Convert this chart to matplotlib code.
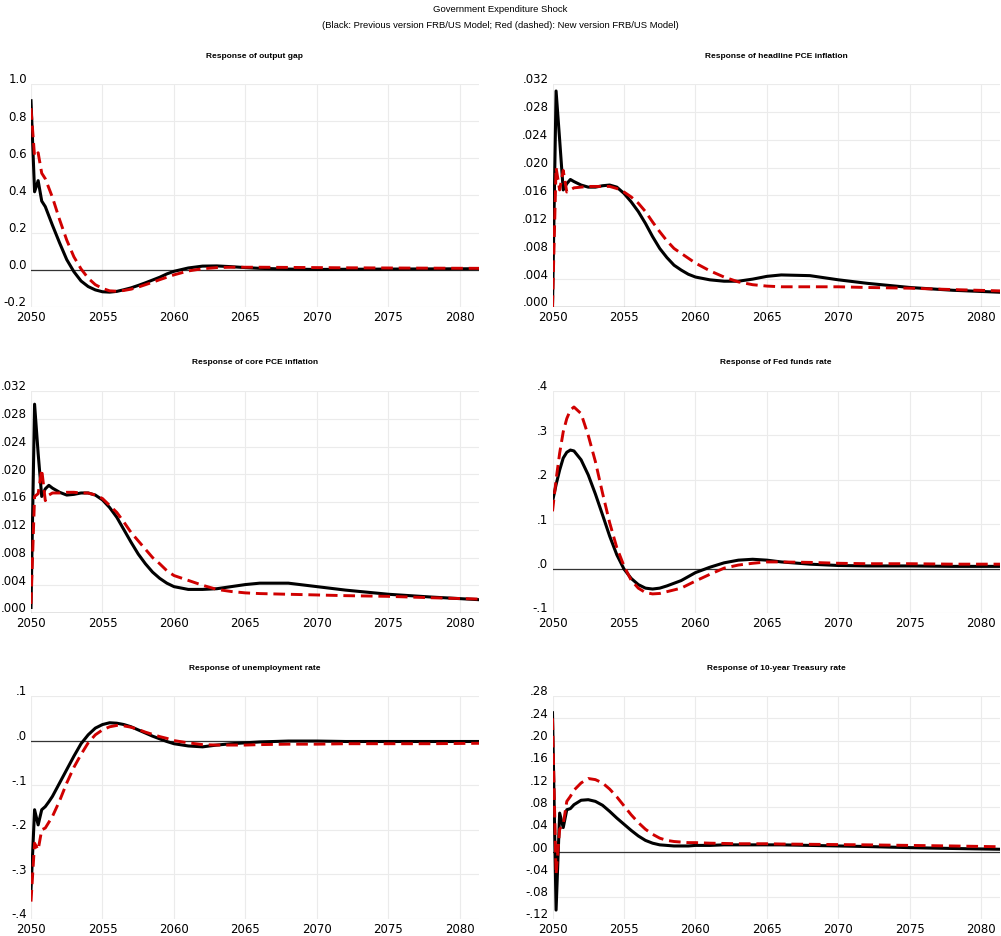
import matplotlib
matplotlib.use("Agg")
import matplotlib.pyplot as plt
from matplotlib.ticker import FuncFormatter, MultipleLocator
from matplotlib.transforms import ScaledTranslation

# time points (quarterly at the start, coarser later)
t = [2050.0, 2050.25, 2050.5, 2050.75, 2051.0, 2051.25, 2051.5, 2052.0, 2052.5,
     2053.0, 2053.5, 2054.0, 2054.5, 2055.0, 2055.5, 2056.0, 2056.5, 2057.0,
     2057.5, 2058.0, 2058.5, 2059.0, 2059.5, 2060.0, 2061.0, 2062.0, 2063.0,
     2064.0, 2065.0, 2066.0, 2068.0, 2070.0, 2072.0, 2075.0, 2078.0, 2081.5]

# output gap
gap_old = [0.91, 0.42, 0.48, 0.37, 0.34, 0.29, 0.24, 0.145, 0.055, -0.01, -0.06,
           -0.09, -0.108, -0.118, -0.12, -0.116, -0.107, -0.097, -0.084, -0.07,
           -0.055, -0.04, -0.022, -0.008, 0.01, 0.02, 0.021, 0.017, 0.012, 0.008,
           0.004, 0.002, 0.003, 0.004, 0.005, 0.006]
gap_new = [0.87, 0.61, 0.63, 0.52, 0.49, 0.44, 0.39, 0.27, 0.16, 0.07, 0.005,
           -0.045, -0.08, -0.10, -0.113, -0.115, -0.111, -0.104, -0.093, -0.08,
           -0.067, -0.053, -0.04, -0.027, -0.006, 0.006, 0.012, 0.014, 0.014,
           0.014, 0.013, 0.012, 0.011, 0.010, 0.009, 0.008]

# headline PCE inflation
pce_old = [0.000, 0.031, 0.024, 0.0168, 0.0177, 0.0183, 0.0180, 0.0175, 0.0172,
           0.0172, 0.0174, 0.0175, 0.0172, 0.0163, 0.0151, 0.0137, 0.0120, 0.0101,
           0.0084, 0.0071, 0.0060, 0.0053, 0.0047, 0.0043, 0.0039, 0.0037, 0.0037,
           0.0040, 0.0044, 0.0046, 0.0045, 0.0039, 0.0034, 0.0028, 0.0024, 0.0021]
pce_new = [0.000, 0.020, 0.0168, 0.0196, 0.0165, 0.0168, 0.0171, 0.0172, 0.0173,
           0.0173, 0.0173, 0.0173, 0.0170, 0.0165, 0.0158, 0.0149, 0.0137, 0.0122,
           0.0108, 0.0095, 0.0084, 0.0077, 0.0070, 0.0063, 0.0052, 0.0043, 0.0036,
           0.0032, 0.0030, 0.0029, 0.0029, 0.0029, 0.0028, 0.0027, 0.0025, 0.0023]

# core PCE inflation
core_old = [0.0008, 0.0301, 0.0230, 0.0168, 0.0179, 0.0184, 0.0180, 0.0174, 0.0170,
            0.0171, 0.0173, 0.0173, 0.0170, 0.0163, 0.0152, 0.0138, 0.0120, 0.0102,
            0.0085, 0.0071, 0.0059, 0.0050, 0.0043, 0.0038, 0.0034, 0.0034, 0.0035,
            0.0038, 0.0041, 0.0043, 0.0043, 0.0038, 0.0033, 0.0027, 0.0023, 0.0019]
core_new = [0.0013, 0.0168, 0.0172, 0.0207, 0.0162, 0.0170, 0.0173, 0.0173, 0.0174,
            0.0174, 0.0173, 0.0173, 0.0170, 0.0165, 0.0155, 0.0145, 0.0131, 0.0116,
            0.0104, 0.0092, 0.0080, 0.0071, 0.0061, 0.0054, 0.0047, 0.0040, 0.0034,
            0.0031, 0.0029, 0.0028, 0.0027, 0.0026, 0.0025, 0.0024, 0.0022, 0.0020]

# fed funds rate
ff_old = [0.151, 0.189, 0.222, 0.249, 0.262, 0.267, 0.265, 0.245, 0.211, 0.168,
          0.121, 0.073, 0.031, -0.001, -0.022, -0.036, -0.044, -0.046, -0.044,
          -0.039, -0.033, -0.027, -0.018, -0.009, 0.003, 0.013, 0.019, 0.021,
          0.019, 0.015, 0.010, 0.007, 0.006, 0.006, 0.005, 0.005]
ff_new = [0.129, 0.200, 0.260, 0.308, 0.338, 0.357, 0.364, 0.349, 0.300, 0.241,
          0.170, 0.103, 0.047, 0.006, -0.026, -0.044, -0.054, -0.057, -0.056,
          -0.052, -0.048, -0.044, -0.036, -0.028, -0.013, 0.001, 0.008, 0.012,
          0.015, 0.015, 0.014, 0.012, 0.011, 0.011, 0.010, 0.010]

# unemployment rate
ur_old = [-0.335, -0.155, -0.189, -0.155, -0.148, -0.137, -0.125, -0.095, -0.065,
          -0.035, -0.007, 0.013, 0.028, 0.036, 0.040, 0.039, 0.036, 0.031, 0.024,
          0.017, 0.010, 0.004, -0.002, -0.007, -0.012, -0.014, -0.010, -0.007,
          -0.005, -0.003, -0.001, -0.001, -0.002, -0.002, -0.002, -0.002]
ur_new = [-0.361, -0.230, -0.245, -0.200, -0.196, -0.183, -0.170, -0.135, -0.095,
          -0.060, -0.031, -0.005, 0.013, 0.024, 0.031, 0.034, 0.033, 0.030, 0.025,
          0.019, 0.014, 0.009, 0.005, 0.000, -0.005, -0.009, -0.010, -0.010,
          -0.010, -0.009, -0.008, -0.008, -0.007, -0.007, -0.007, -0.006]

# 10-year Treasury rate
tr_old = [0.250, -0.104, 0.070, 0.044, 0.076, 0.078, 0.085, 0.093, 0.094, 0.091,
          0.084, 0.073, 0.061, 0.050, 0.039, 0.029, 0.021, 0.016, 0.013, 0.012,
          0.011, 0.011, 0.011, 0.012, 0.012, 0.013, 0.013, 0.013, 0.013, 0.013,
          0.012, 0.011, 0.010, 0.008, 0.0065, 0.005]
tr_new = [0.240, -0.040, 0.041, 0.050, 0.091, 0.100, 0.111, 0.124, 0.132, 0.130,
          0.124, 0.113, 0.099, 0.083, 0.067, 0.053, 0.041, 0.032, 0.025, 0.021,
          0.019, 0.018, 0.017, 0.017, 0.016, 0.0155, 0.015, 0.015, 0.015, 0.0145,
          0.014, 0.0135, 0.013, 0.012, 0.011, 0.0095]

titles = ["Response of output gap", "Response of headline PCE inflation",
          "Response of core PCE inflation", "Response of Fed funds rate",
          "Response of unemployment rate", "Response of 10-year Treasury rate"]
old_series = [gap_old, pce_old, core_old, ff_old, ur_old, tr_old]
new_series = [gap_new, pce_new, core_new, ff_new, ur_new, tr_new]
ylims = [(-0.2, 1.0), (0, 0.032), (0, 0.032), (-0.1, 0.4), (-0.4, 0.1), (-0.12, 0.28)]
ysteps = [0.2, 0.004, 0.004, 0.1, 0.1, 0.04]
ydec = [1, 3, 3, 1, 1, 2]

title_font = ["Liberation Sans", "DejaVu Sans"]

W, H = 1001, 936
fig = plt.figure(figsize=(W / 100, H / 100), dpi=100)

# axes boxes in pixels: left/right, top/bottom
cols = [(31, 478.5), (552.5, 1000)]
rows = [(84, 307), (391, 613), (696, 919)]


def make_fmt(dec, keep_zero):
    def f(v, pos):
        s = f"{v:.{dec}f}"
        if s.startswith("-") and float(s) == 0:
            s = s[1:]
        if not keep_zero:
            s = s.replace("0.", ".", 1)
        return s
    return f


# y labels sit a little above their grid lines in the original
lift = ScaledTranslation(0, 4 / 72, fig.dpi_scale_trans)

for i in range(6):
    r, c = divmod(i, 2)
    x0, x1 = cols[c]
    y0, y1 = rows[r]
    ax = fig.add_axes([x0 / W, 1 - y1 / H, (x1 - x0) / W, (y1 - y0) / H])
    ax.plot(t, old_series[i], color="black", lw=2.2, solid_joinstyle="round", zorder=3)
    ax.plot(t, new_series[i], color="#d00000", lw=2.1, dashes=(4, 2), zorder=4)
    ax.axhline(0, color="#333333", lw=0.9, zorder=2)
    ax.set_xlim(2050, 2081.3)
    ax.set_ylim(*ylims[i])
    ax.xaxis.set_major_locator(MultipleLocator(5))
    ax.yaxis.set_major_locator(MultipleLocator(ysteps[i]))
    ax.yaxis.set_major_formatter(FuncFormatter(make_fmt(ydec[i], i == 0)))
    ax.grid(color="#ebebeb", lw=0.8)
    ax.set_axisbelow(True)
    for s in ax.spines.values():
        s.set_visible(False)
    ax.tick_params(length=0, labelsize=8.5, pad=3)
    for lab in ax.get_yticklabels():
        lab.set_transform(lab.get_transform() + lift)
    fig.text((x0 + x1) / 2 / W, 1 - (y0 - 28) / H, titles[i], ha="center", va="center",
             fontsize=6, fontweight="bold", family=title_font)

fig.text(0.5, 1 - 9 / H, "Government Expenditure Shock", ha="center", va="center",
         fontsize=6.8, family=title_font)
fig.text(0.5, 1 - 25 / H,
         "(Black: Previous version FRB/US Model; Red (dashed): New version FRB/US Model)",
         ha="center", va="center", fontsize=6.8, family=title_font)

fig.savefig("out.png", dpi=100)
